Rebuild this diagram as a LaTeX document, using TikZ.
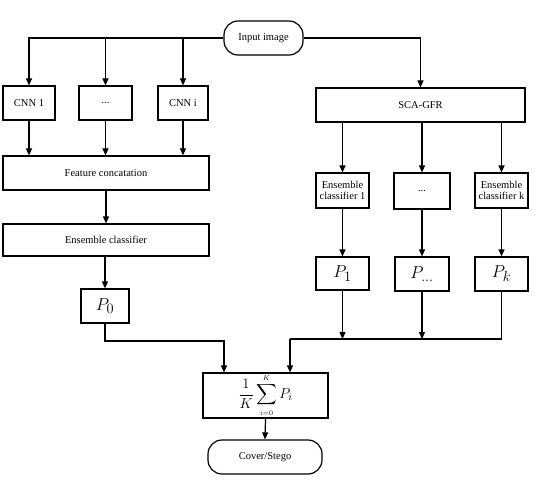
\documentclass[tikz,border=0pt]{standalone}
\usepackage{amsmath, fontspec}
\setmainfont{Liberation Serif}
\usetikzlibrary{arrows.meta}

\tikzset{
  box/.style={draw, line width=1.2pt, inner sep=1pt, font=\fontsize{10.5}{11}\selectfont, align=center},
  capsule/.style={box, rounded corners=14pt},
  flow/.style={line width=1.2pt, -{Triangle[length=7pt,width=6pt]}},
  pbox/.style={box, font=\fontsize{19}{20}\selectfont}
}

\begin{document}
\begin{tikzpicture}[x=1pt, y=-1pt]
        \useasboundingbox (0,0) rectangle (554,484);
        % input and left branch
        \node[capsule, minimum width=79pt, minimum height=34pt] (input) at (263.5,38) {Input image};
        \node[box, minimum width=52pt, minimum height=34pt] (cnn1) at (29,103) {CNN 1};
        \node[box, minimum width=53pt, minimum height=34pt] (cnndots) at (105.5,103) {...};
        \node[box, minimum width=50pt, minimum height=34pt] (cnni) at (183,103) {CNN i};
        \node[box, minimum width=206pt, minimum height=34pt] (concat) at (106,173) {Feature concatation};
        \node[box, minimum width=206pt, minimum height=32pt] (ens) at (106,240) {Ensemble classifier};
        \node[pbox, minimum width=48pt, minimum height=34pt] (p0) at (105,306) {$P_0$};
        % right branch
        \node[box, minimum width=209pt, minimum height=34pt] (sca) at (420.5,105) {SCA-GFR};
        \node[box, minimum width=53pt, minimum height=35pt] (ec1) at (342.5,190.5) {Ensemble\\classifier 1};
        \node[box, minimum width=56pt, minimum height=36pt] (ecdots) at (422,191) {...};
        \node[box, minimum width=53pt, minimum height=35pt] (eck) at (501.5,190.5) {Ensemble\\classifier k};
        \node[pbox, minimum width=53pt, minimum height=33pt] (p1) at (342.5,273.5) {$P_1$};
        \node[pbox, minimum width=54pt, minimum height=34pt] (pdots) at (422,274) {$P_{\ldots}$};
        \node[pbox, minimum width=53pt, minimum height=34pt] (pk) at (501.5,274) {$P_k$};
        % fusion and output
        \node[box, font=\fontsize{15}{17}\selectfont, minimum width=125pt, minimum height=45pt] (sum) at (265.5,395.5)
          {$\displaystyle\frac{1}{K}\sum\limits_{\scriptscriptstyle i=0}^{\scriptscriptstyle K}P_i$};
        \node[capsule, minimum width=114pt, minimum height=34pt] (out) at (265,457) {Cover/Stego};
        \coordinate (mergeL) at (224,341);
        \coordinate (mergeR) at (290,339);
        % connectors
        \draw[flow] (input.west) -| (cnn1.north);
        \draw[flow] (input.west -| cnndots.north) -- (cnndots.north);
        \draw[flow] (input.west -| cnni.north) -- (cnni.north);
        \draw[flow] (input.east) -| (sca.north);
        \draw[flow] (cnn1.south) -- (cnn1.south |- concat.north);
        \draw[flow] (cnndots.south) -- (cnndots.south |- concat.north);
        \draw[flow] (cnni.south) -- (cnni.south |- concat.north);
        \draw[flow] (concat.south) -- (ens.north);
        \draw[flow] (ens.south -| p0.north) -- (p0.north);
        \draw[flow] (p0.south) |- (mergeL) -- (mergeL |- sum.north);
        \draw[flow] (sca.south -| ec1.north) -- (ec1.north);
        \draw[flow] (sca.south -| ecdots.north) -- (ecdots.north);
        \draw[flow] (sca.south -| eck.north) -- (eck.north);
        \draw[flow] (ec1.south) -- (p1.north);
        \draw[flow] (ecdots.south) -- (pdots.north);
        \draw[flow] (eck.south) -- (pk.north);
        \draw[flow] (p1.south) -- (p1.south |- mergeR);
        \draw[flow] (pdots.south) -- (pdots.south |- mergeR);
        \draw[line width=1.2pt] (pk.south) |- (mergeR);
        \draw[flow] (mergeR) -- (mergeR |- sum.north);
        \draw[flow] (sum.south) -- (out.north);
\end{tikzpicture}
\end{document}
